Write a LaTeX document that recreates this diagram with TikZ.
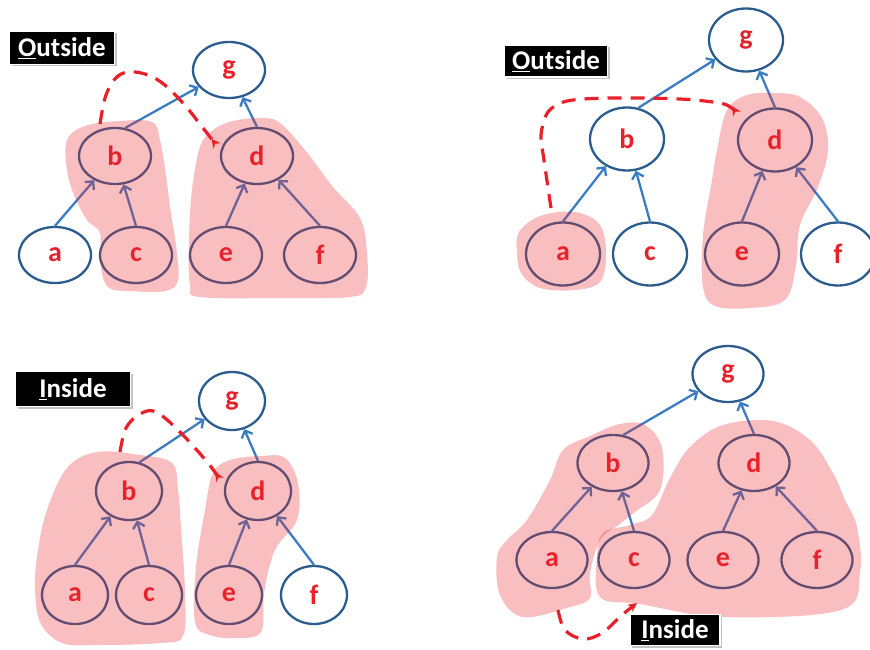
\documentclass[tikz,border=0pt]{standalone}
\usepackage{fontspec}
\setmainfont{Carlito}
\usetikzlibrary{shapes.geometric,arrows.meta,shadows}
\definecolor{nodeblue}{HTML}{2A5C8E}
\definecolor{arcblue}{HTML}{3C7CC2}
\definecolor{labelred}{HTML}{E8202A}
\definecolor{blobred}{HTML}{E8282F}
\tikzset{
  vtx/.style={ellipse,draw=nodeblue,line width=2.3pt,minimum width=72pt,minimum height=56pt,
    inner sep=0pt,text=labelred,font=\fontsize{28}{28}\selectfont\bfseries},
  arc/.style={draw=arcblue,line width=2.3pt,-{Straight Barb[length=6pt,width=12pt]}},
  blob/.style={fill=blobred,fill opacity=0.3,draw=none},
  trail/.style={draw=labelred,line width=3.2pt,dash pattern=on 14pt off 9pt},
  tag/.style={fill=black,text=white,draw=white,line width=1.5pt,inner sep=0pt,
    font=\fontsize{27}{27}\selectfont\bfseries,
    drop shadow={shadow xshift=2pt,shadow yshift=-2pt,fill=black!40,opacity=0.6}}
}
\begin{document}
\begin{tikzpicture}[x=1pt,y=-1pt]
\useasboundingbox (0,0) rectangle (870,650);

% top left
\node[vtx] (g1) at (229,70) {g};
\node[vtx] (b1) at (115,156) {b};
\node[vtx] (d1) at (257,156) {d};
\node[vtx] (a1) at (55,255) {a};
\node[vtx] (c1) at (136,255) {c};
\node[vtx] (e1) at (226,255) {e};
\node[vtx] (f1) at (320,255) {f};
\draw[arc] (a1.north) -- (b1);
\draw[arc] (c1.north) -- (b1);
\draw[arc] (b1.70) -- (g1);
\draw[arc] (d1.north) -- (g1);
\draw[arc] (e1.north) -- (d1);
\draw[arc] (f1.north) -- (d1);
\fill[blob] plot[smooth cycle,tension=0.6] coordinates {(67,140) (85,126) (120,121) (152,122) (160,140) (166,175) (170,207) (176,245) (178,280) (165,291) (130,291) (108,287) (100,262) (100,233) (87,220) (74,195) (67,170)};
\fill[blob] plot[smooth cycle,tension=0.6] coordinates {(200,147) (213,130) (233,121) (262,118) (280,123) (305,150) (333,187) (360,218) (367,253) (366,287) (350,297) (280,298) (200,297) (190,285) (189,240) (192,190)};
\draw[trail,-{Stealth[reversed,length=9pt,width=9pt]}] plot[smooth,tension=0.6] coordinates {(100,124) (106,95) (118,76) (135,72) (158,80) (182,102) (203,128) (217,146)};
\node[tag,minimum width=105pt,minimum height=33pt] (out1) at (62,48) {\underline{O}utside};

% top right
\node[vtx,minimum width=74pt,minimum height=63pt] (g2) at (746,40) {g};
\node[vtx,minimum width=74pt,minimum height=63pt] (b2) at (627,139) {b};
\node[vtx,minimum width=74pt,minimum height=63pt] (d2) at (775,140) {d};
\node[vtx,minimum width=74pt,minimum height=63pt] (a2) at (563,254) {a};
\node[vtx,minimum width=74pt,minimum height=63pt] (c2) at (650,254) {c};
\node[vtx,minimum width=74pt,minimum height=63pt] (e2) at (742,254) {e};
\node[vtx,minimum width=74pt,minimum height=63pt] (f2) at (838,254) {f};
\draw[arc] (a2.north) -- (b2);
\draw[arc] (c2.north) -- (b2);
\draw[arc] (b2.70) -- (g2);
\draw[arc] (d2.north) -- (g2);
\draw[arc] (e2.north) -- (d2);
\draw[arc] (f2.north) -- (d2);
\fill[blob] plot[smooth cycle,tension=0.6] coordinates {(519,232) (540,216) (575,212) (600,225) (606,255) (600,282) (575,290) (540,288) (521,273) (517,252)};
\fill[blob] plot[smooth cycle,tension=0.6] coordinates {(727,110) (747,95) (775,93) (800,97) (822,118) (828,150) (818,187) (800,225) (796,265) (785,300) (750,308) (715,306) (703,287) (703,235) (712,180) (717,150)};
\draw[trail,-{Stealth[reversed,length=9pt,width=9pt]}] plot[smooth,tension=0.5] coordinates {(551,208) (544,160) (541,135) (548,112) (567,101) (610,98) (680,99) (724,104) (737,114)};
\node[tag,minimum width=103pt,minimum height=32pt] (out2) at (556,61) {\underline{O}utside};

% bottom left
\node[vtx,minimum width=66pt,minimum height=58pt] (g3) at (232,401) {g};
\node[vtx,minimum width=66pt,minimum height=58pt] (b3) at (129,491) {b};
\node[vtx,minimum width=66pt,minimum height=58pt] (d3) at (258,491) {d};
\node[vtx,minimum width=66pt,minimum height=58pt] (a3) at (75,595) {a};
\node[vtx,minimum width=66pt,minimum height=58pt] (c3) at (149,595) {c};
\node[vtx,minimum width=66pt,minimum height=58pt] (e3) at (229,595) {e};
\node[vtx,minimum width=66pt,minimum height=58pt] (f3) at (314,595) {f};
\draw[arc] (a3.north) -- (b3);
\draw[arc] (c3.north) -- (b3);
\draw[arc] (b3.70) -- (g3);
\draw[arc] (d3.north) -- (g3);
\draw[arc] (e3.north) -- (d3);
\draw[arc] (f3.north) -- (d3);
\fill[blob] plot[smooth cycle,tension=0.6] coordinates {(67,468) (97,452) (140,455) (172,463) (178,490) (181,527) (185,593) (183,636) (160,643) (100,645) (62,643) (40,622) (35,585) (38,550) (47,510)};
\fill[blob] plot[smooth cycle,tension=0.6] coordinates {(213,473) (230,460) (262,456) (285,458) (298,483) (297,520) (275,550) (264,593) (261,632) (235,638) (210,635) (195,622) (196,567) (205,510)};
\draw[trail,-{Stealth[reversed,length=9pt,width=9pt]}] plot[smooth,tension=0.6] coordinates {(120,452) (126,428) (140,414) (156,412) (180,432) (208,463) (220,480)};
\node[tag,minimum width=115pt,minimum height=35pt] (in3) at (73,389) {\underline{I}nside};

% bottom right
\node[vtx,minimum width=71pt,minimum height=56pt] (g4) at (728,374) {g};
\node[vtx,minimum width=71pt,minimum height=56pt] (b4) at (613,463) {b};
\node[vtx,minimum width=71pt,minimum height=56pt] (d4) at (754,463) {d};
\node[vtx,minimum width=71pt,minimum height=56pt] (a4) at (552,560) {a};
\node[vtx,minimum width=71pt,minimum height=56pt] (c4) at (634,560) {c};
\node[vtx,minimum width=71pt,minimum height=56pt] (e4) at (723,560) {e};
\node[vtx,minimum width=71pt,minimum height=56pt] (f4) at (817,560) {f};
\draw[arc] (a4.north) -- (b4);
\draw[arc] (c4.north) -- (b4);
\draw[arc] (b4.70) -- (g4);
\draw[arc] (d4.north) -- (g4);
\draw[arc] (e4.north) -- (d4);
\draw[arc] (f4.north) -- (d4);
\fill[blob] plot[smooth cycle,tension=0.6] coordinates {(563,450) (590,436) (620,424) (645,425) (662,448) (660,490) (635,512) (617,526) (600,540) (590,573) (590,598) (570,607) (523,617) (500,595) (497,557) (507,540) (527,520) (550,480)};
\fill[blob] plot[smooth cycle,tension=0.6] coordinates {(670,478) (690,447) (723,425) (773,421) (810,440) (833,473) (845,500) (857,527) (860,573) (841,610) (723,617) (640,604) (600,597) (597,557) (603,533) (630,525) (652,515)};
\draw[trail,-{Stealth[length=9pt,width=9pt]}] plot[smooth,tension=0.6] coordinates {(558,610) (565,630) (583,639) (602,633) (622,615) (637,603)};
\node[tag,minimum width=90pt,minimum height=31pt] (in4) at (675,630) {\underline{I}nside};
\end{tikzpicture}
\end{document}
